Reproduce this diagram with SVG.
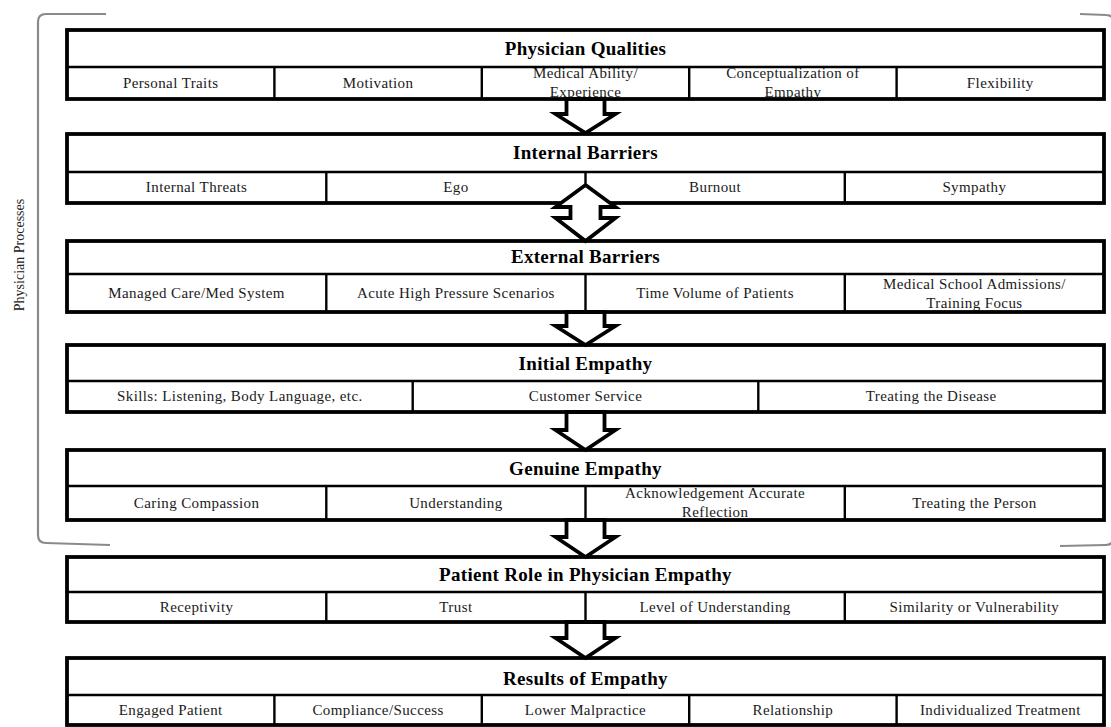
<svg xmlns="http://www.w3.org/2000/svg" width="1111" height="727" viewBox="0 0 1111 727">
<style>
.bg{fill:#fff;stroke:none}
.frame{fill:none;stroke:#000;stroke-width:3.8}
.div{stroke:#000;stroke-width:2.4;fill:none}
.title{font-family:"Liberation Serif","Times New Roman",serif;font-weight:bold;font-size:19px;letter-spacing:0.3px;fill:#000;text-anchor:middle}
.cell{font-family:"Liberation Serif","Times New Roman",serif;font-size:15px;letter-spacing:0.4px;fill:#1a1a1a;text-anchor:middle}
.arrow{fill:#fff;stroke:#000;stroke-width:3.8;stroke-linejoin:miter}
.bracket{fill:none;stroke:#8a8a8a;stroke-width:2.2}
.side{font-family:"Liberation Serif","Times New Roman",serif;font-size:14px;fill:#222;text-anchor:middle}
</style>
<rect width="1111" height="727" fill="#fff"/>

<g id="bracket-physician-processes">
<path class="bracket" d="M106 14 L46 14 Q38 14 38 22 L38 535 Q38 543 46 543 L110 545"/>
<path class="bracket" d="M1080 14 L1106 15 Q1114 15 1114 23 L1114 536 Q1114 545 1106 545 L1060 546"/>
<text class="side" transform="translate(24 255) rotate(-90)">Physician Processes</text>
</g>

<g id="node-physician-qualities">
<rect class="bg" x="67" y="30" width="1037" height="69"/>
<text class="title" x="585.5" y="55">Physician Qualities</text>
<text class="cell" x="170.7" y="88">Personal Traits</text>
<text class="cell" x="378.1" y="88">Motivation</text>
<text class="cell" x="585.5" y="78">Medical Ability/</text>
<text class="cell" x="585.5" y="97">Experience</text>
<text class="cell" x="792.9" y="78">Conceptualization of</text>
<text class="cell" x="792.9" y="97">Empathy</text>
<text class="cell" x="1000.3" y="88">Flexibility</text>
<line class="div" x1="67" y1="67" x2="1104" y2="67"/>
<line class="div" x1="274.4" y1="67" x2="274.4" y2="99"/>
<line class="div" x1="481.8" y1="67" x2="481.8" y2="99"/>
<line class="div" x1="689.2" y1="67" x2="689.2" y2="99"/>
<line class="div" x1="896.6" y1="67" x2="896.6" y2="99"/>
<rect class="frame" x="67" y="30" width="1037" height="69"/>
</g>

<g id="node-internal-barriers">
<rect class="bg" x="67" y="134" width="1037" height="69"/>
<text class="title" x="585.5" y="159">Internal Barriers</text>
<text class="cell" x="196.6" y="192">Internal Threats</text>
<text class="cell" x="455.9" y="192">Ego</text>
<text class="cell" x="715.1" y="192">Burnout</text>
<text class="cell" x="974.4" y="192">Sympathy</text>
<line class="div" x1="67" y1="172" x2="1104" y2="172"/>
<line class="div" x1="326.3" y1="172" x2="326.3" y2="203"/>
<line class="div" x1="585.5" y1="172" x2="585.5" y2="203"/>
<line class="div" x1="844.8" y1="172" x2="844.8" y2="203"/>
<rect class="frame" x="67" y="134" width="1037" height="69"/>
</g>

<g id="node-external-barriers">
<rect class="bg" x="67" y="241" width="1037" height="71"/>
<text class="title" x="585.5" y="263">External Barriers</text>
<text class="cell" x="196.6" y="298">Managed Care/Med System</text>
<text class="cell" x="455.9" y="298">Acute High Pressure Scenarios</text>
<text class="cell" x="715.1" y="298">Time Volume of Patients</text>
<text class="cell" x="974.4" y="289">Medical School Admissions/</text>
<text class="cell" x="974.4" y="308">Training Focus</text>
<line class="div" x1="67" y1="274" x2="1104" y2="274"/>
<line class="div" x1="326.3" y1="274" x2="326.3" y2="312"/>
<line class="div" x1="585.5" y1="274" x2="585.5" y2="312"/>
<line class="div" x1="844.8" y1="274" x2="844.8" y2="312"/>
<rect class="frame" x="67" y="241" width="1037" height="71"/>
</g>

<g id="node-initial-empathy">
<rect class="bg" x="67" y="345" width="1037" height="67"/>
<text class="title" x="585.5" y="370">Initial Empathy</text>
<text class="cell" x="239.8" y="401">Skills: Listening, Body Language, etc.</text>
<text class="cell" x="585.5" y="401">Customer Service</text>
<text class="cell" x="931.2" y="401">Treating the Disease</text>
<line class="div" x1="67" y1="381" x2="1104" y2="381"/>
<line class="div" x1="412.7" y1="381" x2="412.7" y2="412"/>
<line class="div" x1="758.3" y1="381" x2="758.3" y2="412"/>
<rect class="frame" x="67" y="345" width="1037" height="67"/>
</g>

<g id="node-genuine-empathy">
<rect class="bg" x="67" y="450" width="1037" height="70"/>
<text class="title" x="585.5" y="475">Genuine Empathy</text>
<text class="cell" x="196.6" y="508">Caring Compassion</text>
<text class="cell" x="455.9" y="508">Understanding</text>
<text class="cell" x="715.1" y="498">Acknowledgement Accurate</text>
<text class="cell" x="715.1" y="517">Reflection</text>
<text class="cell" x="974.4" y="508">Treating the Person</text>
<line class="div" x1="67" y1="486" x2="1104" y2="486"/>
<line class="div" x1="326.3" y1="486" x2="326.3" y2="520"/>
<line class="div" x1="585.5" y1="486" x2="585.5" y2="520"/>
<line class="div" x1="844.8" y1="486" x2="844.8" y2="520"/>
<rect class="frame" x="67" y="450" width="1037" height="70"/>
</g>

<g id="node-patient-role">
<rect class="bg" x="67" y="557" width="1037" height="65"/>
<text class="title" x="585.5" y="581">Patient Role in Physician Empathy</text>
<text class="cell" x="196.6" y="612">Receptivity</text>
<text class="cell" x="455.9" y="612">Trust</text>
<text class="cell" x="715.1" y="612">Level of Understanding</text>
<text class="cell" x="974.4" y="612">Similarity or Vulnerability</text>
<line class="div" x1="67" y1="592" x2="1104" y2="592"/>
<line class="div" x1="326.3" y1="592" x2="326.3" y2="622"/>
<line class="div" x1="585.5" y1="592" x2="585.5" y2="622"/>
<line class="div" x1="844.8" y1="592" x2="844.8" y2="622"/>
<rect class="frame" x="67" y="557" width="1037" height="65"/>
</g>

<g id="node-results-of-empathy">
<rect class="bg" x="67" y="658" width="1037" height="67"/>
<text class="title" x="585.5" y="685">Results of Empathy</text>
<text class="cell" x="170.7" y="715">Engaged Patient</text>
<text class="cell" x="378.1" y="715">Compliance/Success</text>
<text class="cell" x="585.5" y="715">Lower Malpractice</text>
<text class="cell" x="792.9" y="715">Relationship</text>
<text class="cell" x="1000.3" y="715">Individualized Treatment</text>
<line class="div" x1="67" y1="695" x2="1104" y2="695"/>
<line class="div" x1="274.4" y1="695" x2="274.4" y2="725"/>
<line class="div" x1="481.8" y1="695" x2="481.8" y2="725"/>
<line class="div" x1="689.2" y1="695" x2="689.2" y2="725"/>
<line class="div" x1="896.6" y1="695" x2="896.6" y2="725"/>
<rect class="frame" x="67" y="658" width="1037" height="67"/>
</g>

<g id="connectors">
<polygon class="arrow" points="566.5,99 604.5,99 604.5,114 615.5,114 585.5,133 555.5,114 566.5,114"/>
<polygon class="arrow" points="585.5,185 615.5,207 600.5,207 600.5,218 615.5,218 585.5,241 555.5,218 570.5,218 570.5,207 555.5,207"/>
<polygon class="arrow" points="566.5,312 604.5,312 604.5,326 615.5,326 585.5,345 555.5,326 566.5,326"/>
<polygon class="arrow" points="566.5,412 604.5,412 604.5,430 615.5,430 585.5,450 555.5,430 566.5,430"/>
<polygon class="arrow" points="566.5,520 604.5,520 604.5,537 615.5,537 585.5,557 555.5,537 566.5,537"/>
<polygon class="arrow" points="566.5,622 604.5,622 604.5,638 615.5,638 585.5,658 555.5,638 566.5,638"/>
</g>
</svg>
